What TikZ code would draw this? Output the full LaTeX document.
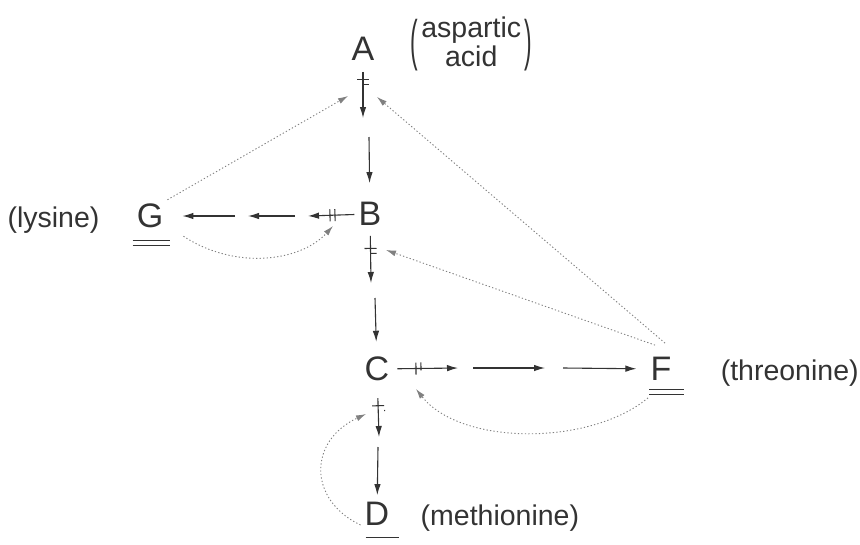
\documentclass[tikz,border=0pt]{standalone}
\usepackage{fontspec}
\setmainfont{Liberation Sans}
\usetikzlibrary{arrows.meta,positioning,decorations.markings}
\definecolor{ink}{gray}{0.2}
\definecolor{faint}{gray}{0.5}

\begin{document}
\begin{tikzpicture}[x=1pt,y=-1pt,>=Latex,
letter/.style={font=\fontsize{34}{34}\selectfont,text=ink,inner sep=4pt},
note/.style={font=\fontsize{28.5}{28}\selectfont,text=ink,inner sep=3pt},
flow/.style={draw=ink,line width=1.1pt,-{Latex[length=11pt,width=6.5pt]}},
feedback/.style={draw=faint,line width=0.9pt,dash pattern=on 1.3pt off 2.2pt,
-{Latex[length=10pt,width=6pt]}},
blocked/.style={postaction={decorate,decoration={markings,mark=at position #1 with
{\draw[ink,line width=1.1pt,-] (-2.5pt,-6pt)--(-2.5pt,6pt) (2.5pt,-6pt)--(2.5pt,6pt);}}}},
bar/.style={draw=ink,line width=1.1pt}]
\useasboundingbox (0,0) rectangle (860,544);
\node[letter] (A) at (363,49) {A};
\node[letter] (B) at (370,214) {B};
\node[letter] (C) at (377,369) {C};
\node[letter] (D) at (377,514) {D};
\node[letter] (F) at (661,369) {F};
\node[letter] (G) at (150,216) {G};
\node[note,right=29pt of A,yshift=3pt] (asp) {\raisebox{-7pt}{\scalebox{0.8}[1.95]{(}}\hspace{3pt}%
\begin{tabular}{@{}c@{}}aspartic\\acid\end{tabular}\hspace{3pt}\raisebox{-7pt}{\scalebox{0.8}[1.95]{)}}};
\node[note,left=30pt of G.base west,anchor=base east] (lys) {(lysine)};
\node[note,right=42pt of F.base east,anchor=base west] (thr) {(threonine)};
\node[note,right=24pt of D.base east,anchor=base west] (met) {(methionine)};
\draw[bar] ([yshift=-8pt]G.south west)--([xshift=3pt,yshift=-8pt]G.south east);
\draw[bar] ([yshift=-13pt]G.south west)--([xshift=3pt,yshift=-13pt]G.south east);
\draw[bar] ([xshift=3pt,yshift=-5pt]F.south west)--([xshift=8pt,yshift=-5pt]F.south east);
\draw[bar] ([xshift=3pt,yshift=-10pt]F.south west)--([xshift=8pt,yshift=-10pt]F.south east);
\draw[bar] ([xshift=5pt,yshift=-8pt]D.south west)--([xshift=6pt,yshift=-8pt]D.south east);
\coordinate (ab1) at (363,118); \coordinate (ab2) at (369,137);
\coordinate (bc1) at (371,283); \coordinate (bc2) at (375,298);
\coordinate (cd1) at (379,437); \coordinate (cd2) at (378,447);
\coordinate (cf1) at (458,368); \coordinate (cf2) at (473,368);
\coordinate (cf3) at (545,368); \coordinate (cf4) at (563,368);
\coordinate (bg1) at (308,216); \coordinate (bg2) at (295,216);
\coordinate (bg3) at (248,216); \coordinate (bg4) at (235,216);
\draw[flow,blocked=17pt,shorten <=7pt] (A)--(ab1);
\draw[flow,shorten >=15pt] (ab2)--(B);
\draw[flow,blocked=21pt,shorten <=6pt] (B)--(bc1);
\draw[flow,shorten >=11pt] (bc2)--(C);
\draw[flow,blocked=23pt,shorten <=13pt] (C)--(cd1);
\draw[flow,shorten >=3pt] (cd2)--(D);
\draw[flow,blocked=25pt,shorten <=4pt] (C)--(cf1);
\draw[flow] (cf2)--(cf3);
\draw[flow,shorten >=10pt] (cf4)--(F);
\draw[flow,blocked=22pt] (B)--(bg1);
\draw[flow] (bg2)--(bg3);
\draw[flow,shorten >=15pt] (bg4)--(G);
\coordinate (ga) at (348,96); \coordinate (fa) at (377,97);
\coordinate (fb) at (386,250); \coordinate (gb) at (333,226);
\coordinate (fc) at (416,389); \coordinate (dc) at (366,414);
\draw[feedback] (G.north east)--(ga);
\draw[feedback] ([shift={(4,-10)}]F.north)--(fa);
\draw[feedback] ([shift={(-6,-8)}]F.north)--(fb);
\draw[feedback] ([shift={(16,4)}]G.south east) .. controls (235,270) and (300,262) .. (gb);
\draw[feedback] ([shift={(-13,13)}]F.south) .. controls (590,446) and (461,446) .. (fc);
\draw[feedback] ([yshift=-11pt]D.west) .. controls (308,500) and (308,441) .. (dc);
\end{tikzpicture}
\end{document}
